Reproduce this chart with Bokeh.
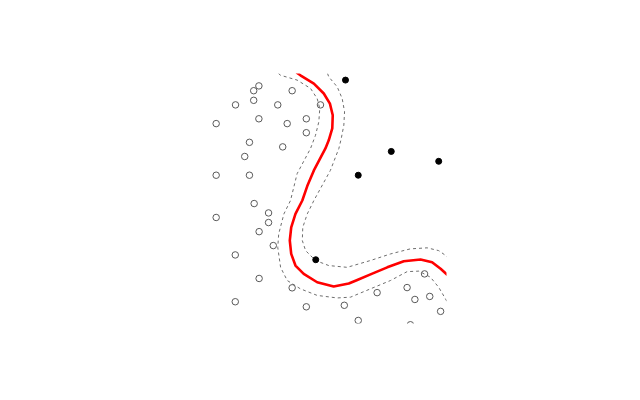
from bokeh.plotting import figure
from bokeh.models import Range1d
from bokeh.embed import file_html
from bokeh.resources import INLINE

# class A (open circles)
a_x = [2.05, 1.83, 3.46, 1.06, 1.83, 2.85, 4.66, 0.24, 2.05, 3.25, 4.06, 4.06,
       1.65, 3.06, 1.45, 0.24, 1.65, 1.85, 0.24, 2.46, 2.46, 2.06, 2.66, 1.05,
       2.06, 3.46, 1.05, 4.06, 9.07, 8.33, 7.06, 9.29, 8.66, 5.67, 9.75, 6.26, 8.47]
a_y = [9.51, 9.32, 9.32, 8.76, 8.94, 8.76, 8.76, 8.02, 8.21, 8.02, 8.21, 7.66,
       7.28, 7.10, 6.72, 5.98, 5.98, 4.86, 4.31, 4.49, 4.11, 3.75, 3.20, 2.83,
       1.90, 1.53, 0.98, 0.78, 2.08, 1.54, 1.34, 1.19, 1.07, 0.84, 0.60, 0.24, 0.07]

# class B (filled dots)
b_x = [5.72, 7.66, 9.67, 6.26, 4.46]
b_y = [9.74, 6.92, 6.53, 5.98, 2.64]

# decision boundary
d_x = [3.64, 3.81, 4.38, 4.80, 5.06, 5.18, 5.16, 5.01, 4.87, 4.38, 4.10, 3.89, 3.60,
       3.42, 3.36, 3.42, 3.60, 3.95, 4.52, 5.22, 5.86, 6.22, 6.78, 7.49, 8.19,
       8.90, 9.39, 9.75, 10.04]
d_y = [10.04, 9.93, 9.60, 9.21, 8.81, 8.35, 7.83, 7.36, 7.04, 6.17, 5.55, 4.98, 4.45,
       3.92, 3.40, 2.87, 2.41, 2.08, 1.75, 1.58, 1.70, 1.84, 2.06, 2.34, 2.58,
       2.65, 2.54, 2.28, 2.04]

# margin on class A side
m1_x = [2.88, 2.97, 3.67, 4.24, 4.52, 4.63, 4.59, 4.45, 4.24, 3.67, 3.39, 3.11,
        2.89, 2.85, 2.97, 3.25, 3.81, 4.52, 5.37, 5.93, 6.78, 7.63, 8.33, 8.83,
        9.32, 9.67, 9.96, 10.04]
m1_y = [10.0, 9.93, 9.74, 9.41, 9.01, 8.62, 8.09, 7.56, 7.04, 6.04, 4.98, 4.45,
        3.66, 3.13, 2.34, 1.82, 1.49, 1.23, 1.13, 1.16, 1.49, 1.82, 2.17, 2.19,
        1.95, 1.55, 1.09, 0.95]

# margin on class B side
m2_x = [4.96, 5.01, 5.37, 5.58, 5.68, 5.65, 5.54, 5.44, 5.08, 4.38, 4.10, 3.91,
        3.89, 4.03, 4.45, 5.01, 5.79, 6.78, 7.63, 8.47, 9.18, 9.67, 9.96, 10.04]
m2_y = [10.0, 9.87, 9.47, 9.01, 8.49, 7.96, 7.43, 7.04, 6.17, 4.98, 4.45, 3.92,
        3.40, 3.00, 2.61, 2.41, 2.34, 2.61, 2.87, 3.07, 3.11, 3.00, 2.81, 2.73]

p = figure(width=640, height=400, output_backend="svg", toolbar_location=None,
           x_axis_type=None, y_axis_type=None,
           x_range=Range1d(0, 10), y_range=Range1d(0.12, 10),
           min_border_left=210, min_border_right=194,
           min_border_top=73, min_border_bottom=77)
p.outline_line_color = None
p.grid.visible = False
p.background_fill_color = "white"
p.border_fill_color = "white"

p.line(m1_x, m1_y, line_color="#6e6e6e", line_width=1, line_dash="3 3",
       line_join="round")
p.line(m2_x, m2_y, line_color="#6e6e6e", line_width=1, line_dash="3 3",
       line_join="round")
p.line(d_x, d_y, line_color="#ff0000", line_width=2.6, line_join="round")

p.scatter(a_x, a_y, size=6.5, marker="circle", fill_color=None,
          line_color="#5a5a5a", line_width=1)
p.scatter(b_x, b_y, size=6, marker="circle", fill_color="black",
          line_color="black", line_width=1)

open("out.html", "w").write(file_html(p, INLINE))
